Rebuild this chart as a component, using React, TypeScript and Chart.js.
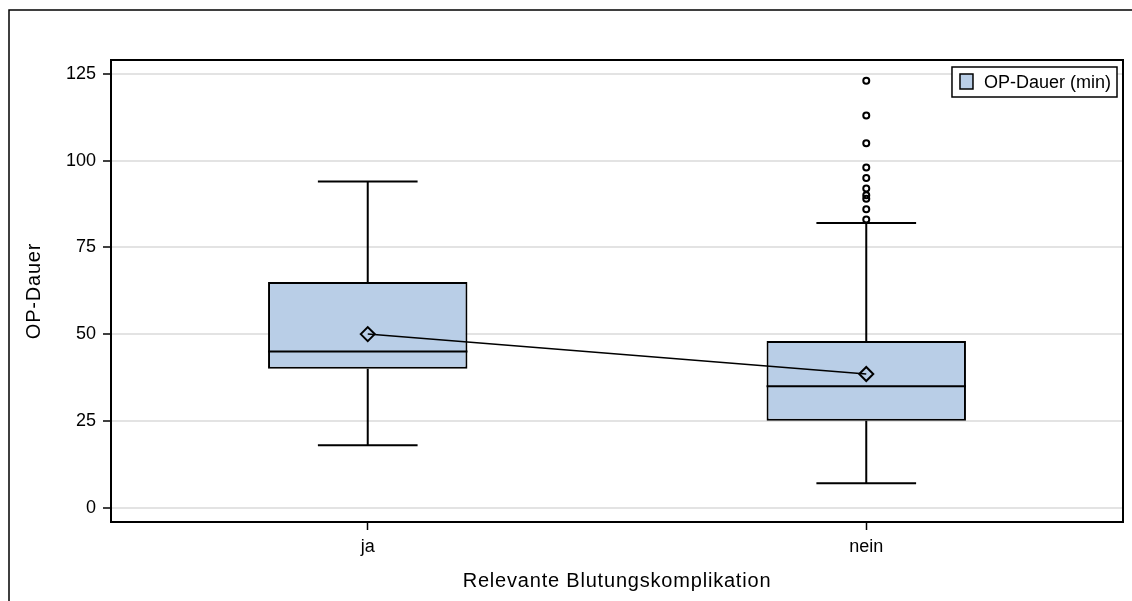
import React, { useEffect, useRef } from "react";
import { Chart, registerables } from "chart.js";

Chart.register(...registerables);

// ---- data ----
const categories = ["ja", "nein"];
const q1 = [40, 25];
const q3 = [65, 48];
const medians = [45, 35];
const whiskerLow = [18, 7];
const whiskerHigh = [94, 82];
const means = [50, 38.5];
const outliersNein = [83, 86, 89, 90, 92, 95, 98, 105, 113, 123];
const yTicks = [0, 25, 50, 75, 100, 125];
const seriesLabel = "OP-Dauer (min)";
const xTitle = "Relevante Blutungskomplikation";
const yTitle = "OP-Dauer";

const FONT = "'Liberation Sans', Arial, Helvetica, sans-serif";
const BOX_FILL = "rgb(185,206,231)";

const boxPlugin = {
  id: "boxExtras",
  afterDatasetDraw(chart: any, args: any) {
    if (args.index !== 0) return;
    const ctx = chart.ctx;
    const xs = chart.scales.x;
    const ys = chart.scales.y;
    const unit = Math.abs(xs.getPixelForValue(1) - xs.getPixelForValue(0));
    const capHalf = unit * 0.1;
    const boxHalf = unit * 0.2;
    ctx.save();
    ctx.strokeStyle = "#000";
    ctx.lineWidth = 2;
    categories.forEach((_, i) => {
      const cx = xs.getPixelForValue(i);
      const yLo = ys.getPixelForValue(whiskerLow[i]);
      const yHi = ys.getPixelForValue(whiskerHigh[i]);
      const yQ1 = ys.getPixelForValue(q1[i]);
      const yQ3 = ys.getPixelForValue(q3[i]);
      const yMed = ys.getPixelForValue(medians[i]);
      ctx.beginPath();
      ctx.moveTo(cx, yQ3);
      ctx.lineTo(cx, yHi);
      ctx.moveTo(cx - capHalf, yHi);
      ctx.lineTo(cx + capHalf, yHi);
      ctx.moveTo(cx, yQ1);
      ctx.lineTo(cx, yLo);
      ctx.moveTo(cx - capHalf, yLo);
      ctx.lineTo(cx + capHalf, yLo);
      ctx.moveTo(cx - boxHalf, yMed);
      ctx.lineTo(cx + boxHalf, yMed);
      ctx.stroke();
    });
    ctx.restore();
  },
  afterDraw(chart: any) {
    const ctx = chart.ctx;
    const a = chart.chartArea;
    ctx.save();
    // plot frame
    ctx.strokeStyle = "#000";
    ctx.lineWidth = 2;
    ctx.strokeRect(a.left, a.top, a.right - a.left, a.bottom - a.top);
    // outer frame
    ctx.lineWidth = 1.5;
    ctx.strokeRect(9, 10, 1135, 610);
    // legend
    const lr = a.right - 6;
    const lt = a.top + 7;
    ctx.font = `18px ${FONT}`;
    const tw = ctx.measureText(seriesLabel).width;
    const lw = tw + 38;
    const lh = 30;
    const ll = lr - lw;
    ctx.fillStyle = "#fff";
    ctx.fillRect(ll, lt, lw, lh);
    ctx.lineWidth = 1.5;
    ctx.strokeRect(ll, lt, lw, lh);
    ctx.fillStyle = BOX_FILL;
    ctx.fillRect(ll + 8, lt + 7, 13, 15);
    ctx.lineWidth = 1.5;
    ctx.strokeRect(ll + 8, lt + 7, 13, 15);
    ctx.fillStyle = "#000";
    ctx.textBaseline = "middle";
    ctx.textAlign = "left";
    ctx.fillText(seriesLabel, ll + 32, lt + lh / 2 + 1);
    // axis titles
    ctx.font = `20px ${FONT}`;
    (ctx as any).letterSpacing = "0.8px";
    ctx.textAlign = "center";
    ctx.fillText(xTitle, (a.left + a.right) / 2, 581);
    ctx.translate(34, (a.top + a.bottom) / 2);
    ctx.rotate(-Math.PI / 2);
    ctx.fillText(yTitle, 0, 0);
    (ctx as any).letterSpacing = "0px";
    ctx.restore();
  },
};

export default function App() {
  const ref = useRef<HTMLCanvasElement | null>(null);
  useEffect(() => {
    if (!ref.current) return;
    const chart = new Chart(ref.current, {
      type: "bar",
      data: {
        datasets: [
          {
            type: "bar",
            label: seriesLabel,
            data: categories.map((_, i) => ({ x: i, y: [q1[i], q3[i]] })) as any,
            backgroundColor: BOX_FILL,
            borderColor: "#000",
            borderWidth: 2,
            borderSkipped: false,
            barPercentage: 0.4,
            categoryPercentage: 1,
            order: 3,
          } as any,
          {
            type: "line",
            label: "outliers",
            data: outliersNein.map((v) => ({ x: 1, y: v })),
            showLine: false,
            pointStyle: "circle",
            pointRadius: 3,
            pointBorderWidth: 2,
            pointBorderColor: "#000",
            pointBackgroundColor: "rgba(255,255,255,0)",
            order: 2,
          } as any,
          {
            type: "line",
            label: "mean",
            data: categories.map((_, i) => ({ x: i, y: means[i] })),
            borderColor: "#000",
            borderWidth: 1.5,
            pointStyle: "rectRot",
            pointRadius: 7,
            pointBorderWidth: 2,
            pointBorderColor: "#000",
            pointBackgroundColor: "rgba(255,255,255,0)",
            order: 1,
          } as any,
        ],
      },
      options: {
        animation: false,
        responsive: true,
        maintainAspectRatio: false,
        layout: { padding: { top: 60, right: 8, bottom: 0, left: 0 } },
        plugins: {
          legend: { display: false },
          tooltip: { enabled: false },
          title: { display: false },
        },
        scales: {
          x: {
            type: "linear",
            offset: false,
            min: -0.515,
            max: 1.515,
            afterBuildTicks: (s: any) => {
              s.ticks = categories.map((_, i) => ({ value: i }));
            },
            afterFit: (s: any) => {
              s.height = 79;
            },
            ticks: {
              callback: (v: any) => categories[v] ?? "",
              color: "#000",
              font: { family: FONT, size: 18 },
              padding: 6,
              maxRotation: 0,
            },
            grid: {
              offset: false,
              drawOnChartArea: false,
              drawTicks: true,
              tickLength: 8,
              tickColor: "#000",
              tickWidth: 1.5,
            },
            border: { display: true, color: "#000", width: 2 },
          },
          y: {
            type: "linear",
            min: -4.15,
            max: 129,
            afterBuildTicks: (s: any) => {
              s.ticks = yTicks.map((v) => ({ value: v }));
            },
            afterFit: (s: any) => {
              s.width = 111;
            },
            ticks: {
              color: "#000",
              font: { family: FONT, size: 18 },
              padding: 7,
            },
            grid: {
              color: "#e3e3e3",
              lineWidth: 2,
              drawTicks: true,
              tickLength: 8,
              tickColor: "#000",
              tickWidth: 1.5,
            },
            border: { display: true, color: "#000", width: 2 },
          },
        },
      },
      plugins: [boxPlugin],
    });
    return () => chart.destroy();
  }, []);
  return (
    <div
      style={{
        position: "fixed",
        left: 0,
        top: 0,
        width: 1132,
        height: 601,
        background: "#fff",
      }}
    >
      <canvas ref={ref} />
    </div>
  );
}
